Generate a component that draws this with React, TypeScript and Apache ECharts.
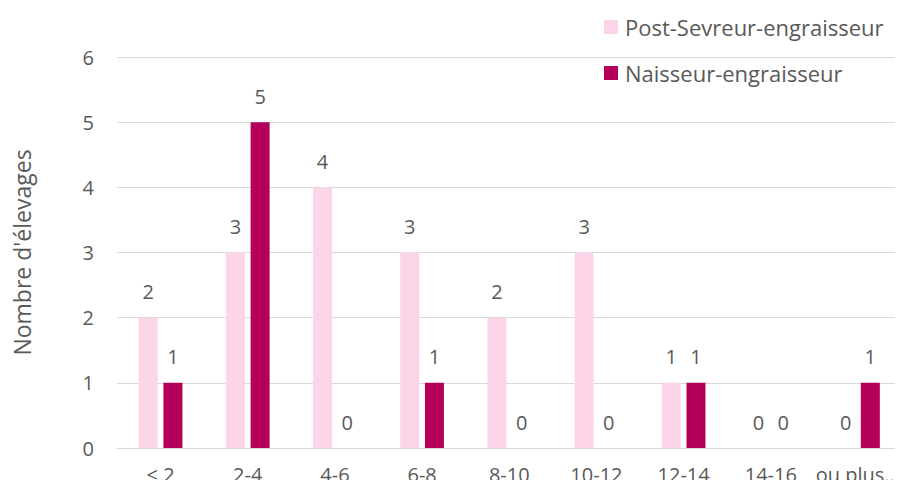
import React, { useEffect, useRef } from "react";
import * as echarts from "echarts";

const categories = ["< 2", "2-4", "4-6", "6-8", "8-10", "10-12", "12-14", "14-16", "ou plus..."];
const postSevreur = [2, 3, 4, 3, 2, 3, 1, 0, 0];
const naisseur = [1, 5, 0, 1, 0, 0, 1, 0, 1];
const seriesNames = ["Post-Sevreur-engraisseur", "Naisseur-engraisseur"];
const yTicks = { min: 0, max: 6, interval: 1 };

const FONT = "'Open Sans', 'Liberation Sans', sans-serif";
const TEXT = "#595959";
const FS = 20;

export default function App() {
  const ref = useRef<HTMLDivElement>(null);
  useEffect(() => {
    if (!ref.current) return;
    const chart = echarts.init(ref.current, undefined, { renderer: "svg" });
    const label = {
      show: true,
      position: "top" as const,
      distance: 16,
      color: TEXT,
      fontFamily: FONT,
      fontSize: FS,
    };
    chart.setOption({
      animation: false,
      textStyle: { fontFamily: FONT },
      grid: { left: 117, top: 57, width: 787, height: 391, containLabel: false },
      legend: {
        orient: "vertical",
        left: 599,
        top: 11,
        itemWidth: 14,
        itemHeight: 14,
        itemGap: 24,
        icon: "rect",
        textStyle: { color: TEXT, fontSize: 22, fontFamily: FONT, padding: [0, 0, 0, 2] },
        data: seriesNames,
      },
      xAxis: {
        type: "category",
        data: categories,
        axisLine: { lineStyle: { color: "#d9d9d9", width: 1 } },
        axisTick: { show: false },
        axisLabel: { color: TEXT, fontSize: FS, fontFamily: FONT, margin: 16, interval: 0 },
      },
      yAxis: {
        type: "value",
        min: yTicks.min,
        max: yTicks.max,
        interval: yTicks.interval,
        name: "Nombre d'élevages",
        nameLocation: "middle",
        nameGap: 84,
        nameTextStyle: { color: TEXT, fontSize: 23, fontFamily: FONT },
        axisLine: { show: false },
        axisTick: { show: false },
        axisLabel: { color: TEXT, fontSize: FS, fontFamily: FONT, margin: 23 },
        splitLine: { lineStyle: { color: "#d9d9d9", width: 1 } },
      },
      series: [
        {
          name: seriesNames[0],
          type: "bar",
          data: postSevreur,
          barWidth: 19,
          barGap: "30%",
          itemStyle: { color: "#FCD6E8" },
          label,
        },
        {
          name: seriesNames[1],
          type: "bar",
          data: naisseur,
          barWidth: 19,
          barGap: "30%",
          itemStyle: { color: "#B5005A" },
          label,
        },
      ],
    });
    return () => chart.dispose();
  }, []);
  return <div ref={ref} style={{ width: 903, height: 488, margin: -8 }} />;
}
